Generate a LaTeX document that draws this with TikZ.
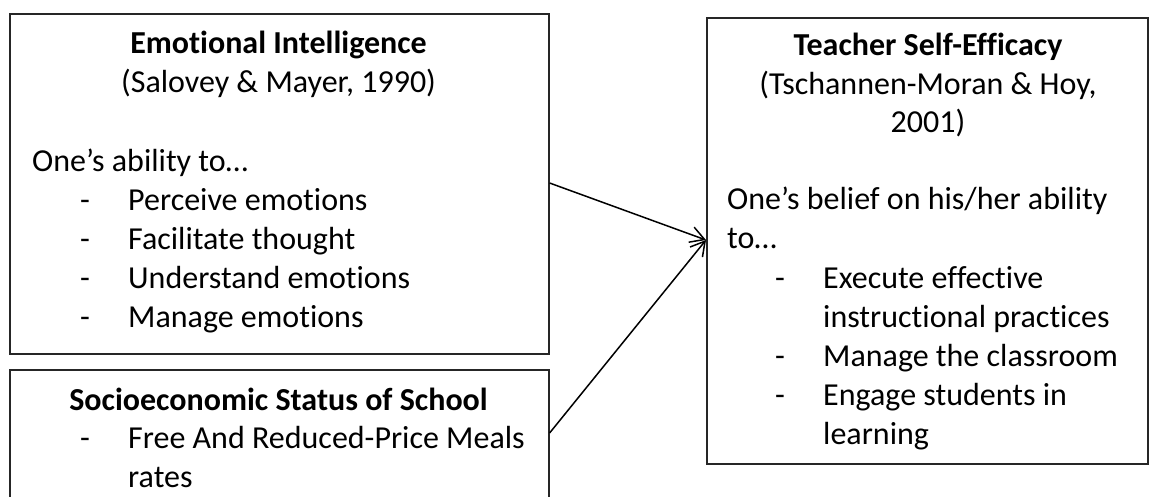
\documentclass[tikz,border=0pt]{standalone}
\usepackage{fontspec}
\setmainfont{Carlito}[Ligatures={NoCommon}]
\usetikzlibrary{arrows.meta}
\begin{document}
\begin{tikzpicture}[x=1pt,y=-1pt,
  panel/.style={draw=black!85, line width=1.6pt, inner sep=0pt},
  txt/.style={inner sep=0pt, anchor=base west, font=\fontsize{32}{39}\selectfont},
  ctr/.style={inner sep=0pt, anchor=base, font=\fontsize{32}{39}\selectfont},
  hd/.style={ctr, font=\fontsize{32}{39}\selectfont\bfseries},
  link/.style={line width=1.5pt, -{Straight Barb[length=14pt,width=16pt,line width=1.5pt]}}]
\useasboundingbox (0,0) rectangle (1151,496);

% boxes
\node[panel, minimum width=539pt, minimum height=340pt, anchor=north west] (ei) at (9,13) {};
\node[panel, minimum width=539pt, minimum height=135pt, anchor=north west] (ses) at (9,369) {};
\node[panel, minimum width=441pt, minimum height=446pt, anchor=north west] (tse) at (706,17) {};

% Emotional Intelligence
\node[hd] (eiT) at (278.5,53) {Emotional Intelligence};
\node[ctr] (eiR) at (278.5,92) {(Salovey \& Mayer, 1990)};
\node[txt] (eiL) at (32,171) {One’s ability to…};
\node[txt] (eiD1) at (80,210) {-};
\node[txt] (eiI1) at (128,210) {Perceive emotions};
\node[txt] (eiD2) at (80,249) {-};
\node[txt] (eiI2) at (128,249) {Facilitate thought};
\node[txt] (eiD3) at (80,288) {-};
\node[txt] (eiI3) at (128,288) {Understand emotions};
\node[txt] (eiD4) at (80,327) {-};
\node[txt] (eiI4) at (128,327) {Manage emotions};

% Socioeconomic status
\node[hd] (sesT) at (278.5,410) {Socioeconomic Status of School};
\node[txt] (sesD1) at (80,448) {-};
\node[txt] (sesI1) at (128,448) {Free And Reduced-Price Meals};
\node[txt] (sesI1b) at (128,487) {rates};

% Teacher self-efficacy
\node[hd] (tseT) at (928,55) {Teacher Self-Efficacy};
\node[ctr] (tseR1) at (928,94) {(Tschannen-Moran \& Hoy,};
\node[ctr] (tseR2) at (928,132) {2001)};
\node[txt] (tseL1) at (727,209) {One’s belief on his/her ability};
\node[txt] (tseL2) at (727,248) {to…};
\node[txt] (tseD1) at (775,288) {-};
\node[txt] (tseI1) at (823,288) {Execute effective};
\node[txt] (tseI1b) at (823,327) {instructional practices};
\node[txt] (tseD2) at (775,366) {-};
\node[txt] (tseI2) at (823,366) {Manage the classroom};
\node[txt] (tseD3) at (775,405) {-};
\node[txt] (tseI3) at (823,405) {Engage students in};
\node[txt] (tseI3b) at (823,444) {learning};

% connectors
\coordinate (eiOut) at (ei.north east |- 0,183);
\coordinate (sesOut) at (ses.north east |- 0,433);
\coordinate (tseIn) at (tse.north west |- 0,240);
\draw[link] (eiOut) -- (tseIn);
\draw[link] (sesOut) -- (tseIn);
\end{tikzpicture}
\end{document}
